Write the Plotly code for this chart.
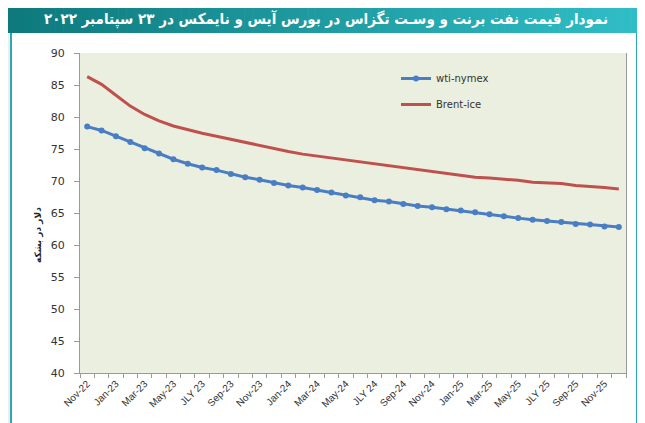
import plotly.graph_objects as go

months = ["Nov-22", "Dec-22", "Jan-23", "Feb-23", "Mar-23", "Apr-23", "May-23", "Jun-23", "JLY 23", "Aug-23",
          "Sep-23", "Oct-23", "Nov-23", "Dec-23", "Jan-24", "Feb-24", "Mar-24", "Apr-24", "May-24", "Jun-24",
          "JLY 24", "Aug-24", "Sep-24", "Oct-24", "Nov-24", "Dec-24", "Jan-25", "Feb-25", "Mar-25", "Apr-25",
          "May-25", "Jun-25", "JLY 25", "Aug-25", "Sep-25", "Oct-25", "Nov-25", "Dec-25"]

wti_nymex = [78.5, 77.9, 77.0, 76.1, 75.1, 74.3, 73.4, 72.7, 72.1, 71.7,
             71.1, 70.6, 70.2, 69.7, 69.3, 69.0, 68.6, 68.2, 67.75, 67.45,
             67.0, 66.8, 66.4, 66.1, 65.9, 65.6, 65.4, 65.1, 64.8, 64.5,
             64.2, 63.95, 63.75, 63.6, 63.3, 63.2, 62.9, 62.8]

brent_ice = [86.3, 85.1, 83.4, 81.7, 80.4, 79.4, 78.6, 78.0, 77.45, 77.0,
             76.5, 76.0, 75.5, 75.0, 74.6, 74.2, 73.9, 73.5, 73.3, 72.9,
             72.6, 72.3, 72.0, 71.7, 71.4, 71.1, 70.8, 70.6, 70.45, 70.3,
             70.1, 69.8, 69.7, 69.6, 69.3, 69.2, 69.0, 68.75]

title_text = "نمودار قیمت نفت برنت و وسـت تگزاس در بورس آیس و نایمکس در ۲۳ سپتامبر ۲۰۲۲"
y_title = "دلار در بشکه"

x = list(range(len(months)))
label_idx = x[::2]
label_text = [months[i] for i in label_idx]

W, H = 645, 423
OFF = 8  # page body margin
# plot area in window pixels: x 80..626, y 53..373
L, T = 80 - OFF, 53 - OFF
R = W - (626 - OFF)
B = H - (373 - OFF)
pw, ph = W - L - R, H - T - B


def px2x(p):
    return (p - OFF - L) / pw


def px2y(p):
    return (H - B - (p - OFF)) / ph


fig = go.Figure()
fig.add_trace(go.Scatter(x=x, y=wti_nymex, name="wti-nymex", mode="lines+markers",
                         line=dict(color="#4A7EC4", width=3), marker=dict(size=6, color="#4A7EC4"),
                         legend="legend"))
fig.add_trace(go.Scatter(x=x, y=brent_ice, name="Brent-ice", mode="lines",
                         line=dict(color="#C0504D", width=3), legend="legend2"))

shapes = []
# white card
shapes.append(dict(type="rect", xref="paper", yref="paper", layer="below",
                   x0=px2x(11), x1=px2x(637), y0=px2y(440), y1=px2y(30),
                   fillcolor="white", line=dict(color="#2AA8B0", width=2)))
# plot area background
shapes.append(dict(type="rect", xref="paper", yref="paper", layer="below",
                   x0=0, x1=1, y0=0, y1=1, fillcolor="#EBEFDF", line=dict(width=0)))
# gradient title bar
n = 80
x0p, x1p = 8, 638
c0 = (14, 122, 126)
c1 = (48, 190, 198)
for i in range(n):
    a = x0p + (x1p - x0p) * i / n
    b = x0p + (x1p - x0p) * (i + 1) / n + 0.6
    t = i / (n - 1)
    col = "rgb(%d,%d,%d)" % tuple(int(c0[k] + (c1[k] - c0[k]) * t) for k in range(3))
    shapes.append(dict(type="rect", xref="paper", yref="paper", layer="above",
                       x0=px2x(a), x1=px2x(b), y0=px2y(33), y1=px2y(5),
                       fillcolor=col, line=dict(width=0)))

fig.update_layout(
    width=W, height=H,
    margin=dict(l=L, r=R, t=T, b=B, autoexpand=False),
    paper_bgcolor="#ECEEF0",
    plot_bgcolor="#EBEFDF",
    shapes=shapes,
    font=dict(family="DejaVu Sans", color="#333333"),
    showlegend=True,
    legend=dict(x=px2x(396), y=px2y(64), xanchor="left", yanchor="top",
                bgcolor="rgba(0,0,0,0)", font=dict(size=10, family="DejaVu Sans", color="#333")),
    legend2=dict(x=px2x(396), y=px2y(90), xanchor="left", yanchor="top",
                 bgcolor="rgba(0,0,0,0)", font=dict(size=10, family="DejaVu Sans", color="#333")),
    annotations=[
        dict(text="<b>" + title_text + "</b>", xref="paper", yref="paper",
             x=px2x(326), y=px2y(19), xanchor="center", yanchor="middle", showarrow=False,
             font=dict(size=15, color="white", family="DejaVu Sans Condensed")),
        dict(text="<b>" + y_title + "</b>", xref="paper", yref="paper",
             x=px2x(38), y=px2y(235), xanchor="center", yanchor="middle", showarrow=False,
             textangle=-90, font=dict(size=9, color="#222", family="DejaVu Sans")),
    ],
)

fig.update_xaxes(range=[-0.5, len(months) - 0.5], tickmode="array", tickvals=label_idx, ticktext=label_text,
                 tickangle=-45, ticks="", showgrid=False, zeroline=False, automargin=False,
                 showline=True, linecolor="#9A9A9A", linewidth=1,
                 tickfont=dict(size=10, family="Liberation Sans", color="#333"),
                 minor=dict(tickmode="linear", tick0=-0.5, dtick=1, ticks="outside", ticklen=4,
                            tickcolor="#9A9A9A", showgrid=False))
fig.update_yaxes(range=[40, 90], dtick=5, ticks="outside", ticklen=5, tickcolor="#9A9A9A",
                 showgrid=False, zeroline=False, showline=True, linecolor="#9A9A9A", linewidth=1,
                 mirror=True, automargin=False, ticklabelstandoff=7,
                 tickfont=dict(size=11, family="DejaVu Sans", color="#333"))

fig.write_html("out.html")
